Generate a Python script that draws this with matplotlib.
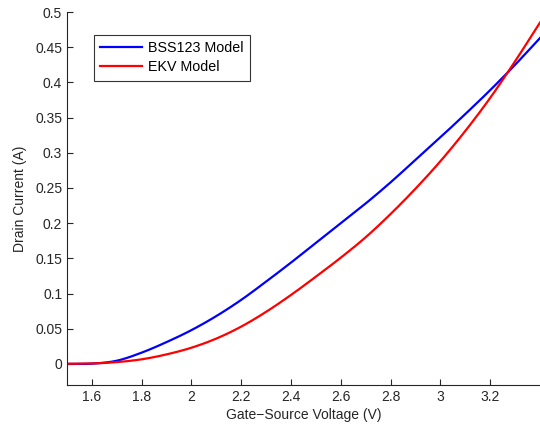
import matplotlib
matplotlib.use("Agg")
import matplotlib.pyplot as plt
import numpy as np

plt.rcParams['font.family'] = ['Liberation Sans', 'DejaVu Sans']

vgs = [1.5, 1.6, 1.7, 1.8, 1.9, 2.0, 2.1, 2.2, 2.3, 2.4, 2.5, 2.6, 2.7, 2.8, 2.9, 3.0, 3.1, 3.2, 3.3, 3.4]
bss123 = [0.0, 0.0003, 0.0045, 0.016, 0.031, 0.048, 0.068, 0.091, 0.117, 0.144, 0.172, 0.200, 0.228, 0.258, 0.290, 0.322, 0.355, 0.389, 0.425, 0.463]
ekv = [0.0001, 0.0006, 0.0025, 0.0065, 0.0135, 0.023, 0.036, 0.053, 0.074, 0.098, 0.124, 0.151, 0.180, 0.213, 0.249, 0.288, 0.331, 0.378, 0.430, 0.485]
xticks = [1.6, 1.8, 2, 2.2, 2.4, 2.6, 2.8, 3, 3.2]
yticks = [0, 0.05, 0.1, 0.15, 0.2, 0.25, 0.3, 0.35, 0.4, 0.45, 0.5]

fig = plt.figure(figsize=(5.4, 4.25), dpi=100)
ax = fig.add_axes([67/540, 1-385/425, 1-67/540, (385-12)/425])

def smooth(x, y, n=400):
    x = np.asarray(x, float); y = np.asarray(y, float)
    xs = np.linspace(x[0], x[-1], n)
    out = np.empty_like(xs)
    for k, xv in enumerate(xs):
        i = np.searchsorted(x, xv) - 1
        i = min(max(i, 0), len(x) - 2)
        x0, x1 = x[i], x[i+1]
        t = (xv - x0) / (x1 - x0)
        p0 = y[i-1] if i > 0 else y[i]
        p1, p2 = y[i], y[i+1]
        p3 = y[i+2] if i + 2 < len(x) else y[i+1]
        m1 = (p2 - p0) / 2 if i > 0 else (p2 - p1)
        m2 = (p3 - p1) / 2 if i + 2 < len(x) else (p2 - p1)
        t2, t3 = t*t, t*t*t
        out[k] = (2*t3-3*t2+1)*p1 + (t3-2*t2+t)*m1 + (-2*t3+3*t2)*p2 + (t3-t2)*m2
    return xs, out

xb, yb = smooth(vgs, bss123)
xe, ye = smooth(vgs, ekv)
ax.plot(xb, yb, color='#0000ff', lw=1.6, label='BSS123 Model')
ax.plot(xe, ye, color='#ff0000', lw=1.6, label='EKV Model')

ax.set_xlim(1.5, 3.4)
ax.set_ylim(-0.03, 0.5)
ax.set_xticks(xticks)
ax.set_xticklabels([f"{v:g}" for v in xticks])
ax.set_yticks(yticks)
ax.set_yticklabels([f"{v:g}" for v in yticks])
ax.tick_params(direction='in', length=4, labelsize=10, color='#262626', labelcolor='#262626')
ax.spines['top'].set_visible(False)
ax.spines['right'].set_visible(False)
for s in ('left', 'bottom'):
    ax.spines[s].set_color('#262626')
    ax.spines[s].set_linewidth(0.8)

ax.set_xlabel('Gate\u2212Source Voltage (V)', fontsize=10, color='#262626', labelpad=3)
ax.set_ylabel('Drain Current (A)', fontsize=10, color='#262626', labelpad=6)

leg = fig.legend(loc='upper left', bbox_to_anchor=(94/540, 1-35/425), borderaxespad=0,
                 fontsize=10.3, frameon=True, fancybox=False, edgecolor='black',
                 handlelength=2.9, handletextpad=0.4, borderpad=0.45, labelspacing=0.33)
leg.get_frame().set_linewidth(0.8)

fig.savefig('out.png', dpi=100)
